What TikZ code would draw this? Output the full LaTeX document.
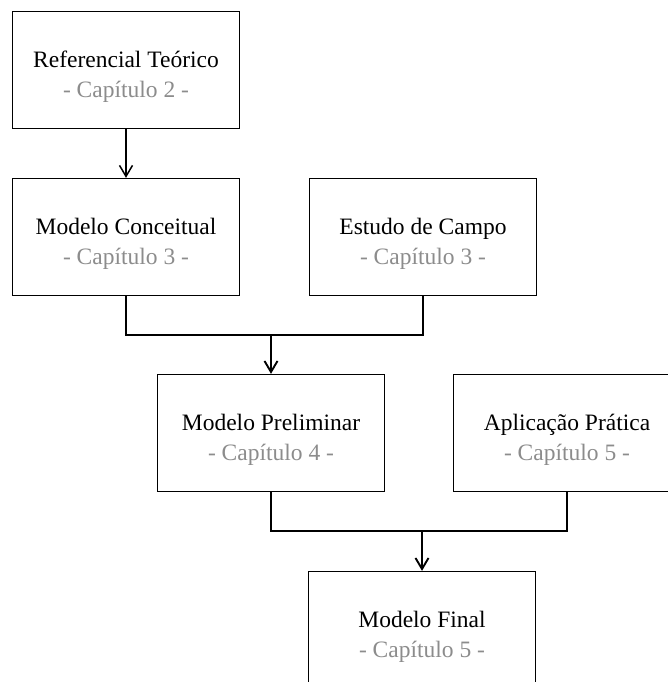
\documentclass[tikz,border=0pt]{standalone}
\usepackage{fontspec}
\setmainfont{Liberation Serif}
\newfontfamily\etapafont{Liberation Serif}
\usepackage{tikz}
\usetikzlibrary{arrows.meta,positioning,calc}
\definecolor{capink}{HTML}{000000}
\definecolor{capgray}{HTML}{8C8C8C}
\tikzset{
  etapa/.style={draw=capink, line width=1.3pt, fill=white, align=center,
    minimum width=227pt, minimum height=117pt, inner sep=0pt,
    font=\etapafont\fontsize{23.5}{30}\selectfont},
  ln/.style={line width=1.3pt, color=capink},
  arr/.style={-{Straight Barb[length=11pt, width=13pt]}, line width=1.5pt, color=capink},
  arr2/.style={arr, line width=1.9pt},
}
\newcommand{\etapatxt}[2]{\rule{0pt}{30pt}#1\\{\color{capgray}- Capítulo #2 -}}

\begin{document}
\begin{tikzpicture}[x=1pt, y=-1pt]
    \useasboundingbox (0,0) rectangle (668,682);
    \node[etapa] (rt) at (126,70) {\etapatxt{Referencial Teórico}{2}};
    \node[etapa] (mc) at (126,237) {\etapatxt{Modelo Conceitual}{3}};
    \node[etapa] (ec) at (423,237) {\etapatxt{Estudo de Campo}{3}};
    \node[etapa] (mp) at (271,433) {\etapatxt{Modelo Preliminar}{4}};
    \node[etapa] (ap) at (567,433) {\etapatxt{Aplicação Prática}{5}};
    \node[etapa] (mf) at (422,630) {\etapatxt{Modelo Final}{5}};
    \coordinate (j1) at (271,335);
    \coordinate (j2) at (422,531);
    \draw[arr] (rt) -- (mc);
    \draw[ln] (mc.south) |- (j1) -| (ec.south);
    \draw[arr2] (j1) -- (mp.north);
    \draw[ln] (mp.south) |- (j2) -| (ap.south);
    \draw[arr2] (j2) -- (mf.north);
  \end{tikzpicture}
\end{document}
